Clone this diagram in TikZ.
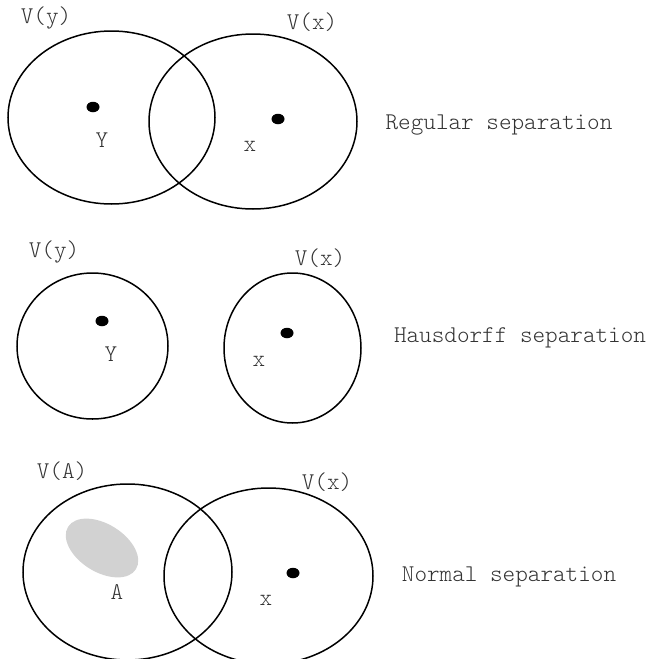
\documentclass[tikz,border=0pt]{standalone}
\usepackage{fontspec}
\newfontfamily\labelfont{Latin Modern Mono Light}
\usetikzlibrary{shapes.geometric}
\definecolor{inkgray}{HTML}{333333}
\definecolor{blobgray}{HTML}{D2D2D2}
\tikzset{
  nbhd/.style={draw=black, line width=1.5pt},
  pointdot/.style={shape=ellipse, fill=black, inner sep=0pt, minimum width=13pt, minimum height=10.5pt},
  lbl/.style={inner sep=0pt, text=inkgray, font=\fontsize{24}{28}\selectfont\labelfont},
}
\begin{document}
\begin{tikzpicture}[x=1pt, y=-1pt]
\useasboundingbox (0,0) rectangle (650,659);
\clip (0,0) rectangle (650,659);

% --- regular separation ---
\draw[nbhd] (111.5,117.5) ellipse [x radius=103.5, y radius=86.5];
\draw[nbhd] (253,121.5) ellipse [x radius=104, y radius=87.5];
\node[pointdot] (ry) at (93,107) {};
\node[pointdot] (rx) at (278,119) {};
\node[lbl] (ryl) at (102,140) {Y};
\node[lbl] (rxl) at (250,146) {x};
\node[lbl] (rvy) at (46,18) {V(y)};
\node[lbl] (rvx) at (312,22) {V(x)};
\node[lbl] (rt) at (499,125) {Regular separation};

% --- Hausdorff separation ---
\draw[nbhd] (92.5,346) ellipse [x radius=75.5, y radius=73];
\draw[nbhd] (292.5,348) ellipse [x radius=68.5, y radius=75];
\node[pointdot] (hy) at (102,321) {};
\node[pointdot] (hx) at (287,333) {};
\node[lbl] (hyl) at (111,354) {Y};
\node[lbl] (hxl) at (259,361) {x};
\node[lbl] (hvy) at (54,252) {V(y)};
\node[lbl] (hvx) at (320,258) {V(x)};
\node[lbl] (ht) at (520,338) {Hausdorff separation};

% --- normal separation ---
\fill[blobgray, rotate around={-32:(102,548)}] (102,548) ellipse [x radius=40, y radius=24];
\draw[nbhd] (127.5,572) ellipse [x radius=104.5, y radius=88];
\draw[nbhd] (268.5,576) ellipse [x radius=104.5, y radius=88];
\node[pointdot] (nx) at (293,573) {};
\node[lbl] (nal) at (117,592) {A};
\node[lbl] (nxl) at (266,600) {x};
\node[lbl] (nva) at (62,471) {V(A)};
\node[lbl] (nvx) at (327,482) {V(x)};
\node[lbl] (nt) at (509,577) {Normal separation};
\end{tikzpicture}
\end{document}
